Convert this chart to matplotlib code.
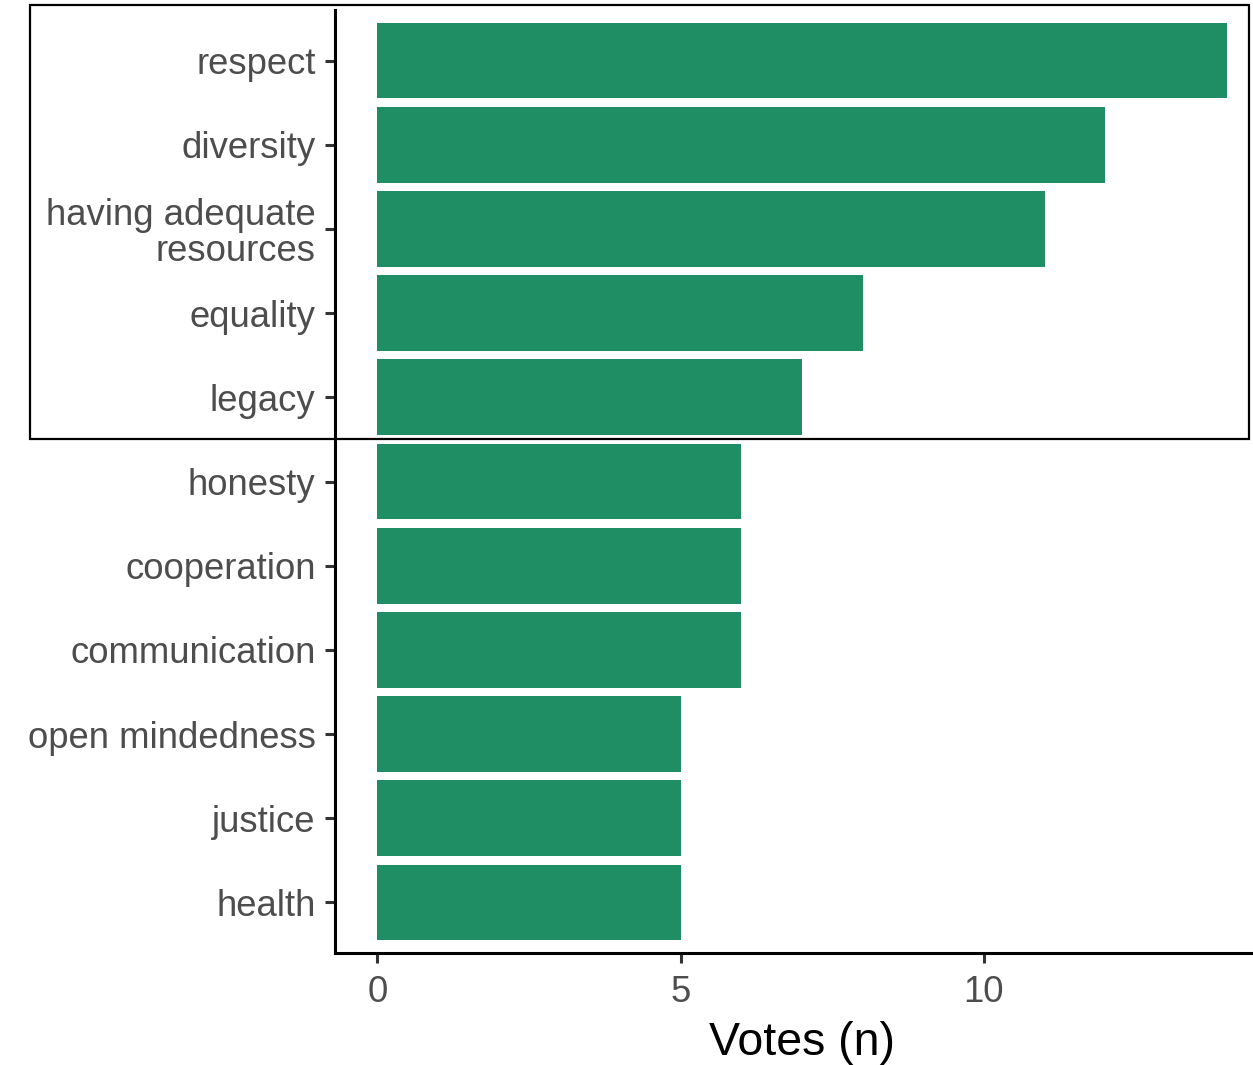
import matplotlib
matplotlib.use("Agg")
import matplotlib.pyplot as plt
from matplotlib.patches import Rectangle

categories = ["respect", "diversity", "having adequate\nresources", "equality", "legacy",
              "honesty", "cooperation", "communication", "open mindedness", "justice", "health"]
votes = [14, 12, 11, 8, 7, 6, 6, 6, 5, 5, 5]
x_ticks = [0, 5, 10]

plt.rcParams['font.family'] = ['Liberation Sans', 'DejaVu Sans']

W, H = 1253, 1065
fig = plt.figure(figsize=(W / 100, H / 100), dpi=100)
ax = fig.add_axes([335 / W, 1 - 953 / H, (1269 - 335) / W, (953 - 10) / H])

n = len(categories)
pos = list(range(n, 0, -1))
ax.barh(pos, votes, height=0.9, color="#1F8E64", edgecolor="none")

ax.set_xlim(-0.7, 14.7)
ax.set_ylim(0.4, n + 0.6)
ax.set_yticks(pos)
ax.set_yticklabels(categories, fontsize=26.3, color="#4D4D4D", linespacing=1.05)
ax.set_xticks(x_ticks)
ax.set_xticklabels([str(t) for t in x_ticks], fontsize=26.3, color="#4D4D4D")
ax.set_xlabel("Votes (n)", fontsize=33.5, color="black", labelpad=8)

for s in ["top", "right"]:
    ax.spines[s].set_visible(False)
for s in ["left", "bottom"]:
    ax.spines[s].set_linewidth(2.2)
    ax.spines[s].set_color("black")
ax.tick_params(axis="y", length=7, width=2.2, color="#333333", pad=7)
ax.tick_params(axis="x", length=7, width=2.2, color="#333333", pad=9)

# highlight box around the top five
fig.patches.append(Rectangle((30 / W, 1 - 439 / H), (1249 - 30) / W, (439 - 5) / H,
                             transform=fig.transFigure, fill=False,
                             edgecolor="black", linewidth=1.6))

fig.savefig("out.png", dpi=100)
